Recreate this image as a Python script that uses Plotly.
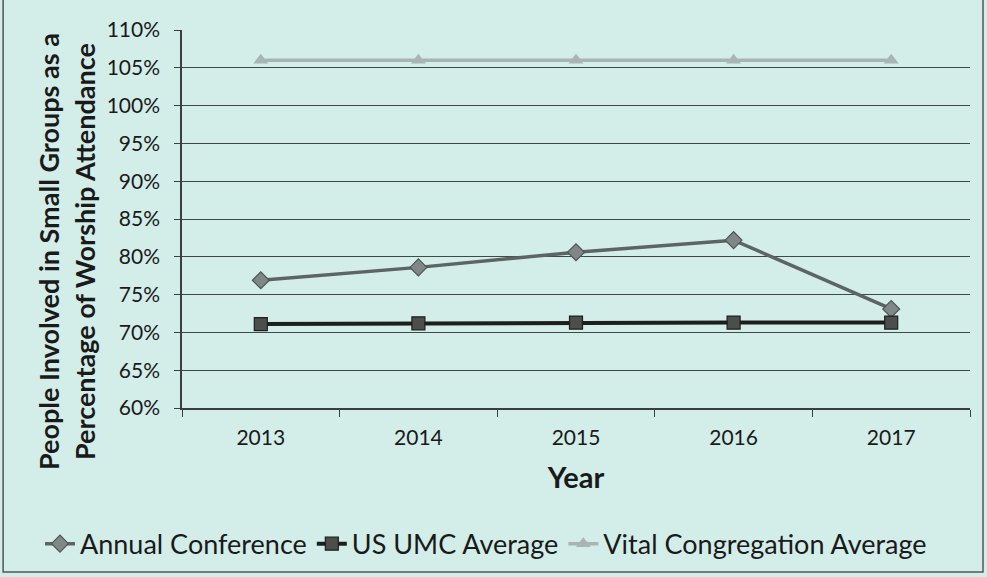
import plotly.graph_objects as go

years = ["2013", "2014", "2015", "2016", "2017"]
annual_conference = [76.9, 78.6, 80.6, 82.2, 73.1]
us_umc_average = [71.1, 71.2, 71.3, 71.3, 71.3]
vital_congregation_average = [106.0, 106.0, 106.0, 106.0, 106.0]
y_ticks = [60, 65, 70, 75, 80, 85, 90, 95, 100, 105, 110]
y_tick_labels = [f"{v}%" for v in y_ticks]
y_title_lines = ["People Involved in Small Groups as a", "Percentage of Worship Attendance"]

bg = "#d3ede9"
font_family = "Lato, 'Open Sans', sans-serif"

fig = go.Figure()
fig.add_trace(go.Scatter(
    x=years, y=annual_conference, name="Annual Conference", mode="lines+markers",
    line=dict(color="#5d6463", width=3.5),
    marker=dict(symbol="diamond", size=13, color="#7f8886", line=dict(color="#4f5554", width=1.2)),
))
fig.add_trace(go.Scatter(
    x=years, y=us_umc_average, name="US UMC Average", mode="lines+markers",
    line=dict(color="#1c1f1e", width=4),
    marker=dict(symbol="square", size=13, color="#4b4e4b", line=dict(color="#1c1f1e", width=1.2)),
))
fig.add_trace(go.Scatter(
    x=years, y=vital_congregation_average, name="Vital Congregation Average", mode="lines+markers",
    line=dict(color="#a8b6b3", width=3.5),
    marker=dict(symbol="triangle-up", size=13, color="#a8b6b3"),
))

plot_h = 577 - 30 - 169
plot_w = 987 - 182 - 17
annotations = []
for text, xc in zip(y_title_lines, [48, 84]):
    annotations.append(dict(
        text=f"<b>{text}</b>", textangle=-90, showarrow=False,
        xref="paper", yref="paper", x=(xc - 182) / plot_w, y=(408 - 252) / plot_h,
        xanchor="center", yanchor="middle", font=dict(size=27, color="#1a1a1a"),
    ))

fig.update_layout(
    width=987, height=577,
    paper_bgcolor=bg, plot_bgcolor=bg,
    margin=dict(l=182, r=17, t=30, b=169, autoexpand=False),
    font=dict(family=font_family, size=21, color="#1a1a1a"),
    showlegend=True,
    legend=dict(orientation="h", x=(40 - 182) / plot_w, xanchor="left", y=-0.36, yanchor="middle",
                font=dict(size=27), bgcolor="rgba(0,0,0,0)", itemwidth=30, tracegroupgap=0),
    xaxis=dict(
        type="category", range=[-0.5, 4.5], showgrid=False, showline=True,
        linecolor="#3a3f3e", linewidth=1.5,
        ticks="outside", tickson="boundaries", ticklen=7, tickcolor="#3a3f3e",
        ticklabelstandoff=10,
        title=dict(text="<b>Year</b>", font=dict(size=29), standoff=20),
        tickfont=dict(size=21),
    ),
    yaxis=dict(
        range=[60, 110], tickvals=y_ticks, ticktext=y_tick_labels,
        showgrid=True, gridcolor="#3d4a48", gridwidth=1.3,
        showline=True, linecolor="#3a3f3e", linewidth=1.5,
        ticks="outside", ticklen=6, tickcolor="#3a3f3e", ticklabelstandoff=10,
        tickfont=dict(size=21), zeroline=False,
    ),
    annotations=annotations,
    shapes=[dict(type="rect", xref="paper", yref="paper", x0=-0.227, x1=1.0165, y0=-0.434, y1=1.09,
                 line=dict(color="#555", width=1.5), layer="below")],
)

fig.write_html("out.html", config={"displayModeBar": False},
               post_script="document.body.style.margin='0';document.body.style.padding='0';")
